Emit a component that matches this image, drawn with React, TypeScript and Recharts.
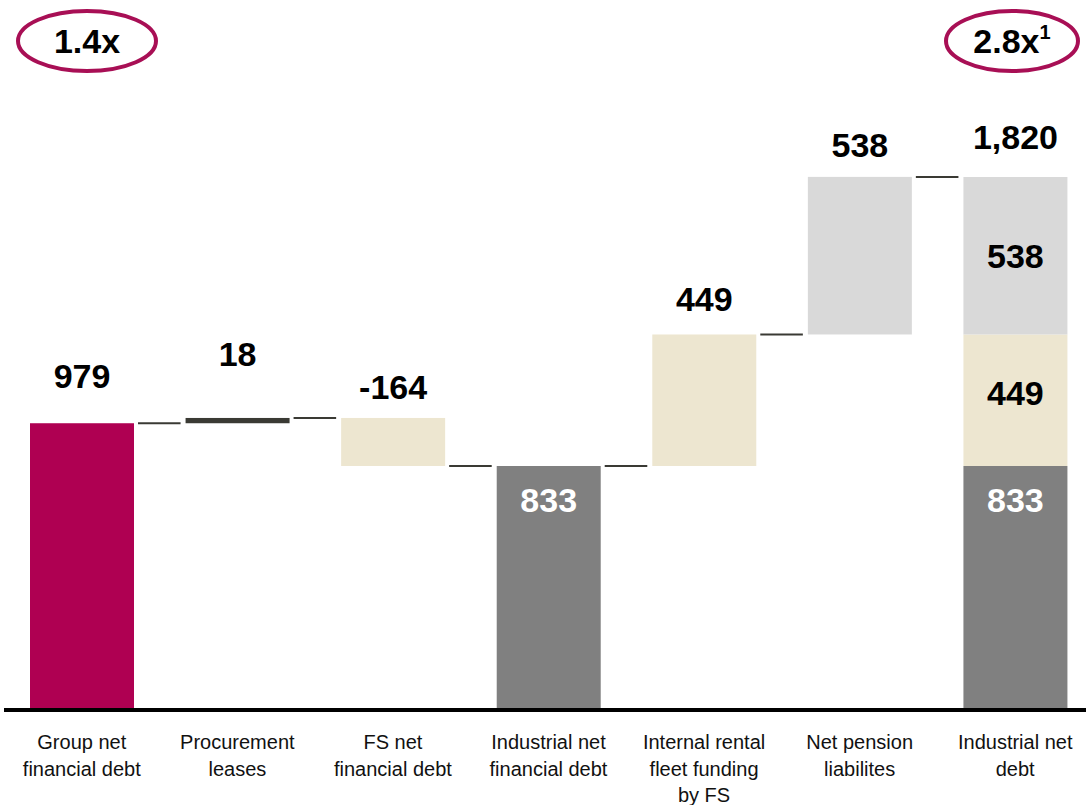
import React from "react";
import { BarChart, Bar, XAxis, YAxis, LabelList } from "recharts";

// bridge from group net financial debt to industrial net debt (EUR m)
const categories: string[][] = [
  ["Group net", "financial debt"],
  ["Procurement", "leases"],
  ["FS net", "financial debt"],
  ["Industrial net", "financial debt"],
  ["Internal rental", "fleet funding", "by FS"],
  ["Net pension", "liabilites"],
  ["Industrial net", "debt"],
];
const stepValues = [979, 18, -164, 833, 449, 538, 1820];
const stepKinds = ["total", "delta", "delta", "total", "delta", "delta", "total"];
const stepLabels = ["979", "18", "-164", "833", "449", "538", "1,820"];
// last bar broken down: industrial net financial debt, rental funding, pensions
const finalParts = [833, 449, 538];
const finalLabels = ["833", "449", "538"];

const W = 1100;
const H = 805;
const M = { top: 7, right: 7, bottom: 0, left: 4 };
const AXIS_H = 95;
const PLOT_BOTTOM = H - M.bottom - AXIS_H;
const BAR_SIZE = 104;
const BAND = (W - M.left - M.right) / categories.length;
const FONT = "'Liberation Sans', Arial, Helvetica, sans-serif";

const MAGENTA = "#AF0052";
const DARK = "#3A3A34";
const BEIGE = "#EDE6D0";
const GREY = "#808080";
const LIGHT = "#D9D9D9";
const STEP_COLORS = [MAGENTA, DARK, BEIGE, GREY, BEIGE, LIGHT, GREY];
// distance from bar top to value label baseline
const LABEL_GAP = [35, 52, 19, 0, 23, 20, 28];

const last = categories.length - 1;
let run = 0;
const rows = categories.map((lines, i) => {
  const v = stepValues[i];
  const row: any = { name: lines.join(" "), base: 0, s1: 0, s2: 0, s3: 0, falls: false };
  if (i === last) {
    row.s1 = finalParts[0];
    row.s2 = finalParts[1];
    row.s3 = finalParts[2];
    run = v;
  } else if (stepKinds[i] === "total") {
    row.s1 = v;
    run = v;
  } else {
    row.base = Math.min(run, run + v);
    row.s1 = Math.abs(v);
    row.falls = v < 0;
    run += v;
  }
  return row;
});

const StepShape = (props: any) => {
  const { x, y, width, height, index, payload } = props;
  const gap = BAND - BAR_SIZE;
  const ly = payload.falls ? y + height : y;
  return (
    <g>
      <rect x={x} y={y} width={width} height={Math.max(height, 0)} fill={STEP_COLORS[index]} />
      {index < last && (
        <line x1={x + width + 4} x2={x + width + gap - 5} y1={ly} y2={ly} stroke={DARK} strokeWidth={2} />
      )}
    </g>
  );
};

const txt = (x: number, y: number, s: string, fill = "#000") => (
  <text x={x} y={y} textAnchor="middle" fill={fill} fontFamily={FONT} fontWeight="bold" fontSize={34}>
    {s}
  </text>
);

const geom = (p: any) => {
  const vb = p.viewBox || {};
  const g = (k: string) => Number(p[k] ?? vb[k]);
  return { x: g("x"), y: g("y"), w: g("width"), h: g("height") };
};

// all value labels hang off the first visible segment; the stacked segments
// above it are placed with the same px-per-unit the bar itself was drawn with
const S1Labels = (p: any) => {
  const i = p.index;
  const { x, y, w, h } = geom(p);
  const cx = x + w / 2;
  if (i < last && i !== 3) return txt(cx, y - LABEL_GAP[i], stepLabels[i]);
  if (i === 3) return txt(cx, y + 46, stepLabels[i], "#fff");
  const segH = Number.isFinite(h) && h !== 0 ? Math.abs(h) : PLOT_BOTTOM - y;
  const k = segH / rows[i].s1;
  const top2 = y - rows[i].s2 * k;
  const top3 = top2 - rows[i].s3 * k;
  return (
    <g>
      {txt(cx, y + 46, finalLabels[0], "#fff")}
      {txt(cx, (y + top2) / 2 + 5, finalLabels[1])}
      {txt(cx, (top2 + top3) / 2 + 12, finalLabels[2])}
      {txt(cx, top3 - LABEL_GAP[i], stepLabels[i])}
    </g>
  );
};

const CatTick = (props: any) => {
  const { x, y, payload } = props;
  const lines = categories.find((c) => c.join(" ") === payload.value) || [String(payload.value)];
  return (
    <text x={x} y={y + 37} textAnchor="middle" fill="#111" fontFamily={FONT} fontSize={20}>
      {lines.map((l, k) => (
        <tspan key={k} x={x} dy={k === 0 ? 0 : 26.5}>
          {l}
        </tspan>
      ))}
    </text>
  );
};

export default function App() {
  return (
    <div style={{ position: "fixed", left: 0, top: 0, width: 1086, height: H, overflow: "hidden", background: "#fff" }}>
      <BarChart width={W} height={H} data={rows} margin={M} barSize={BAR_SIZE}>
        <XAxis
          dataKey="name"
          height={AXIS_H}
          interval={0}
          tickLine={false}
          tickSize={0}
          axisLine={{ stroke: "#000", strokeWidth: 4 }}
          tick={<CatTick />}
        />
        <YAxis hide type="number" domain={[0, 2400]} />
        <Bar dataKey="base" stackId="a" fill="transparent" isAnimationActive={false} />
        <Bar dataKey="s1" stackId="a" shape={<StepShape />} isAnimationActive={false}>
          <LabelList dataKey="s1" content={<S1Labels />} />
        </Bar>
        <Bar dataKey="s2" stackId="a" fill={BEIGE} isAnimationActive={false} />
        <Bar dataKey="s3" stackId="a" fill={LIGHT} isAnimationActive={false} />
      </BarChart>
      <svg width={1086} height={90} style={{ position: "absolute", left: 0, top: 0 }}>
        <ellipse cx={87} cy={41} rx={69} ry={30} fill="none" stroke="#A80F55" strokeWidth={4} />
        <text x={87} y={53} textAnchor="middle" fontFamily={FONT} fontWeight="bold" fontSize={34} fill="#000">
          1.4x
        </text>
        <ellipse cx={1012} cy={41} rx={66} ry={30} fill="none" stroke="#A80F55" strokeWidth={4} />
        <text x={1012} y={53} textAnchor="middle" fontFamily={FONT} fontWeight="bold" fontSize={34} fill="#000">
          2.8x
          <tspan fontSize={20} dy={-14}>
            1
          </tspan>
        </text>
      </svg>
    </div>
  );
}
